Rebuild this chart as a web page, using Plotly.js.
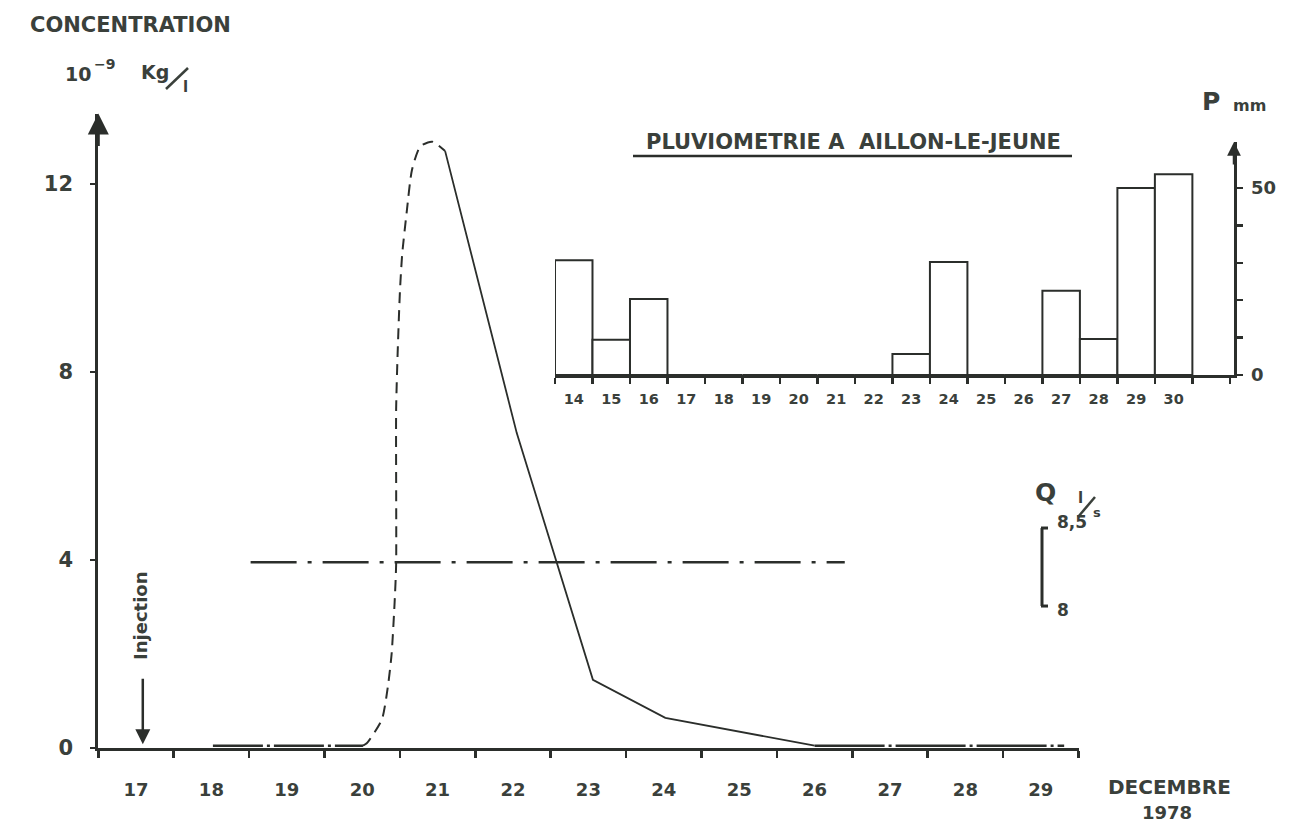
<!DOCTYPE html>
<html>
<head>
<meta charset="utf-8">
<script src="https://cdn.plot.ly/plotly-3.0.1.min.js"></script>
<style>html,body{margin:0;padding:0;background:#fff;}#chart{width:1300px;height:825px;}</style>
</head>
<body>
<div id="chart"></div>
<script>
// ---- Data ----
// Concentration (10^-9 kg/l), x = day of December 1978
const baseX1 = [18.02, 19.02, 20.01];
const baseY1 = [0.05, 0.05, 0.05];
const riseX = [20.01, 20.06, 20.26, 20.34, 20.39, 20.43, 20.45, 20.45, 20.47, 20.50, 20.53, 20.59, 20.66, 20.77, 20.93, 21.10];
const riseY = [0.05, 0.10, 0.60, 1.30, 2.00, 3.10, 3.90, 7.20, 8.40, 9.70, 10.5, 11.4, 12.3, 12.8, 12.9, 12.7];
const fallX = [21.10, 22.05, 23.06, 24.02, 26.00];
const fallY = [12.7, 6.7, 1.45, 0.64, 0.05];
const tailX = [26.00, 27.00, 28.05, 29.31];
const tailY = [0.05, 0.05, 0.05, 0.05];
// Discharge Q (l/s)
const qX = [18.52, 26.40];
const qY = [8.28, 8.28];
const qTicks = [8, 8.5];
const qLabels = ['8,5', '8'];
// Main axis ticks
const dayTicks = [17, 18, 19, 20, 21, 22, 23, 24, 25, 26, 27, 28, 29];
const concTicks = [0, 4, 8, 12];
// Rainfall at Aillon-le-Jeune (mm)
const rainDays = [14, 15, 16, 17, 18, 19, 20, 21, 22, 23, 24, 25, 26, 27, 28, 29, 30];
const rainMM   = [30.7, 9.4, 20.3, 0, 0, 0, 0, 0, 0, 5.6, 30.2, 0, 0, 22.5, 9.6, 50, 53.7];
const rainTicks = [0, 10, 20, 30, 40, 50];
const rainTickText = ['0', '', '', '', '', '50'];

// ---- Layout helpers ----
const W = 1300, H = 825;
const px = v => v / W;
const py = v => 1 - v / H;
const INK = '#2b2e2b';
const TXT = '#3a403b';
const FF = 'DejaVu Sans';
const f = (s, extra) => Object.assign({family: FF, size: s, color: TXT, weight: 'bold'}, extra || {});

const traces = [
  {x: baseX1, y: baseY1, xaxis: 'x', yaxis: 'y', mode: 'lines',
   line: {color: INK, width: 2.5, dash: '50px,4px,3px,4px'}, hoverinfo: 'skip'},
  {x: riseX, y: riseY, xaxis: 'x', yaxis: 'y', mode: 'lines',
   line: {color: INK, width: 2, dash: '11px,7px', shape: 'spline', smoothing: 0.6}, hoverinfo: 'skip'},
  {x: fallX, y: fallY, xaxis: 'x', yaxis: 'y', mode: 'lines',
   line: {color: INK, width: 1.8}, hoverinfo: 'skip'},
  {x: tailX, y: tailY, xaxis: 'x', yaxis: 'y', mode: 'lines',
   line: {color: INK, width: 2.5, dash: '70px,4px,3px,4px'}, hoverinfo: 'skip'},
  {x: qX, y: qY, xaxis: 'x', yaxis: 'y3', mode: 'lines',
   line: {color: INK, width: 2.5, dash: '46px,11px,4px,11px'}, hoverinfo: 'skip'},
  {x: rainDays, y: rainMM, xaxis: 'x2', yaxis: 'y2', type: 'bar', width: 1,
   marker: {color: '#ffffff', line: {color: INK, width: 2}}, hoverinfo: 'skip'}
];

const layout = {
  width: W, height: H,
  margin: {l: 0, r: 0, t: 0, b: 0},
  paper_bgcolor: '#ffffff',
  plot_bgcolor: 'rgba(0,0,0,0)',
  showlegend: false,
  font: f(18),
  bargap: 0,
  xaxis: {
    domain: [px(98.3), px(1078.5)], range: [16.5, 29.5], anchor: 'y',
    tickmode: 'array', tickvals: dayTicks, ticktext: dayTicks.map(String),
    ticks: '', ticklabelstandoff: 24,
    tickfont: f(18),
    minor: {tick0: 16.5, dtick: 1, ticks: 'outside', ticklen: 7, tickwidth: 2.5, tickcolor: INK},
    showline: true, linewidth: 2.5, linecolor: INK,
    showgrid: false, zeroline: false, fixedrange: true
  },
  yaxis: {
    domain: [py(748), py(113.5)], range: [0, 13.5], anchor: 'x',
    tickmode: 'array', tickvals: concTicks, ticktext: concTicks.map(String),
    ticks: 'outside', ticklen: 5, tickwidth: 2.5, tickcolor: INK,
    ticklabelstandoff: 13,
    tickfont: f(21),
    showline: true, linewidth: 3, linecolor: INK,
    showgrid: false, zeroline: false, fixedrange: true
  },
  yaxis3: {
    domain: [py(748), py(113.5)], range: [7.090, 11.157], overlaying: 'y', anchor: 'x',
    visible: false, showgrid: false, zeroline: false, fixedrange: true
  },
  xaxis2: {
    domain: [px(555), px(1234)], range: [13.5, 31.61], anchor: 'y2',
    tickmode: 'array', tickvals: rainDays, ticktext: rainDays.map(String),
    ticks: '', ticklabelstandoff: 9,
    tickfont: f(14.5),
    minor: {tick0: 13.5, dtick: 1, ticks: 'outside', ticklen: 6, tickwidth: 2.5, tickcolor: INK},
    showline: true, linewidth: 2.5, linecolor: INK,
    showgrid: false, zeroline: false, fixedrange: true
  },
  yaxis2: {
    domain: [py(375), py(142)], range: [0, 62.3], anchor: 'x2', side: 'right',
    tickmode: 'array', tickvals: rainTicks, ticktext: rainTickText,
    ticks: 'outside', ticklen: 6, tickwidth: 2.5, tickcolor: INK,
    ticklabelstandoff: 5,
    tickfont: f(18),
    showline: true, linewidth: 2.5, linecolor: INK,
    showgrid: false, zeroline: false, fixedrange: true
  },
  shapes: [
    // Q bracket
    {type: 'line', xref: 'paper', yref: 'y3', x0: px(1042), x1: px(1042), y0: qTicks[0], y1: qTicks[1], line: {color: INK, width: 3}},
    {type: 'line', xref: 'paper', yref: 'y3', x0: px(1041), x1: px(1048), y0: qTicks[1], y1: qTicks[1], line: {color: INK, width: 3}},
    {type: 'line', xref: 'paper', yref: 'y3', x0: px(1041), x1: px(1048), y0: qTicks[0], y1: qTicks[0], line: {color: INK, width: 3}},
    // title underline
    {type: 'line', xref: 'paper', yref: 'paper', x0: px(633), x1: px(1072), y0: py(156), y1: py(156), line: {color: INK, width: 2.5}},
    // slashes in units
    {type: 'line', xref: 'paper', yref: 'paper', x0: px(166), x1: px(188), y0: py(89), y1: py(68), line: {color: TXT, width: 2.5}},
    {type: 'line', xref: 'paper', yref: 'paper', x0: px(1078), x1: px(1095), y0: py(517), y1: py(497), line: {color: TXT, width: 2.5}}
  ],
  annotations: [
    // axis arrows
    {x: 16.5, y: 13.5, xref: 'x', yref: 'y', ax: 0, ay: 34, showarrow: true, arrowhead: 2, arrowsize: 1.4, arrowwidth: 3, arrowcolor: INK, text: ''},
    {x: 31.61, y: 62.3, xref: 'x2', yref: 'y2', ax: 0, ay: 24, showarrow: true, arrowhead: 2, arrowsize: 1.1, arrowwidth: 2.5, arrowcolor: INK, text: ''},
    // injection arrow
    {x: 17.09, y: 0.08, xref: 'x', yref: 'y', ax: 0, ay: -67, showarrow: true, arrowhead: 2, arrowsize: 1.2, arrowwidth: 2.5, arrowcolor: INK, text: ''},
    {x: px(140), y: py(616), xref: 'paper', yref: 'paper', text: 'Injection', textangle: -90, showarrow: false, font: f(18), xanchor: 'center', yanchor: 'middle'},
    // titles and units
    {x: px(28), y: py(25), xref: 'paper', yref: 'paper', text: 'CONCENTRATION', showarrow: false, font: f(21), xanchor: 'left', yanchor: 'middle'},
    {x: px(78), y: py(74), xref: 'paper', yref: 'paper', text: '10', showarrow: false, font: f(19), xanchor: 'center', yanchor: 'middle'},
    {x: px(104), y: py(64), xref: 'paper', yref: 'paper', text: '\u22129', showarrow: false, font: f(14), xanchor: 'center', yanchor: 'middle'},
    {x: px(155), y: py(72), xref: 'paper', yref: 'paper', text: 'Kg', showarrow: false, font: f(19), xanchor: 'center', yanchor: 'middle'},
    {x: px(185), y: py(87), xref: 'paper', yref: 'paper', text: 'l', showarrow: false, font: f(15), xanchor: 'center', yanchor: 'middle'},
    {x: px(853), y: py(142), xref: 'paper', yref: 'paper', text: 'PLUVIOMETRIE A\u00a0 AILLON-LE-JEUNE', showarrow: false, font: f(21), xanchor: 'center', yanchor: 'middle'},
    {x: px(1211), y: py(101), xref: 'paper', yref: 'paper', text: 'P', showarrow: false, font: f(25), xanchor: 'center', yanchor: 'middle'},
    {x: px(1249), y: py(106), xref: 'paper', yref: 'paper', text: 'mm', showarrow: false, font: f(16), xanchor: 'center', yanchor: 'middle'},
    {x: px(1045), y: py(493), xref: 'paper', yref: 'paper', text: 'Q', showarrow: false, font: f(25), xanchor: 'center', yanchor: 'middle'},
    {x: px(1080), y: py(498), xref: 'paper', yref: 'paper', text: 'l', showarrow: false, font: f(15), xanchor: 'center', yanchor: 'middle'},
    {x: px(1097), y: py(512), xref: 'paper', yref: 'paper', text: 's', showarrow: false, font: f(13), xanchor: 'center', yanchor: 'middle'},
    {x: px(1055), y: qTicks[1], xref: 'paper', yref: 'y3', yshift: 6, text: qLabels[0], showarrow: false, font: f(17), xanchor: 'left', yanchor: 'middle'},
    {x: px(1055), y: qTicks[0], xref: 'paper', yref: 'y3', yshift: -4, text: qLabels[1], showarrow: false, font: f(17), xanchor: 'left', yanchor: 'middle'},
    {x: px(1169), y: py(787), xref: 'paper', yref: 'paper', text: 'DECEMBRE', showarrow: false, font: f(20), xanchor: 'center', yanchor: 'middle'},
    {x: px(1167), y: py(812), xref: 'paper', yref: 'paper', text: '1978', showarrow: false, font: f(18), xanchor: 'center', yanchor: 'middle'}
  ]
};

Plotly.newPlot('chart', traces, layout, {staticPlot: true, displayModeBar: false});
</script>
</body>
</html>
